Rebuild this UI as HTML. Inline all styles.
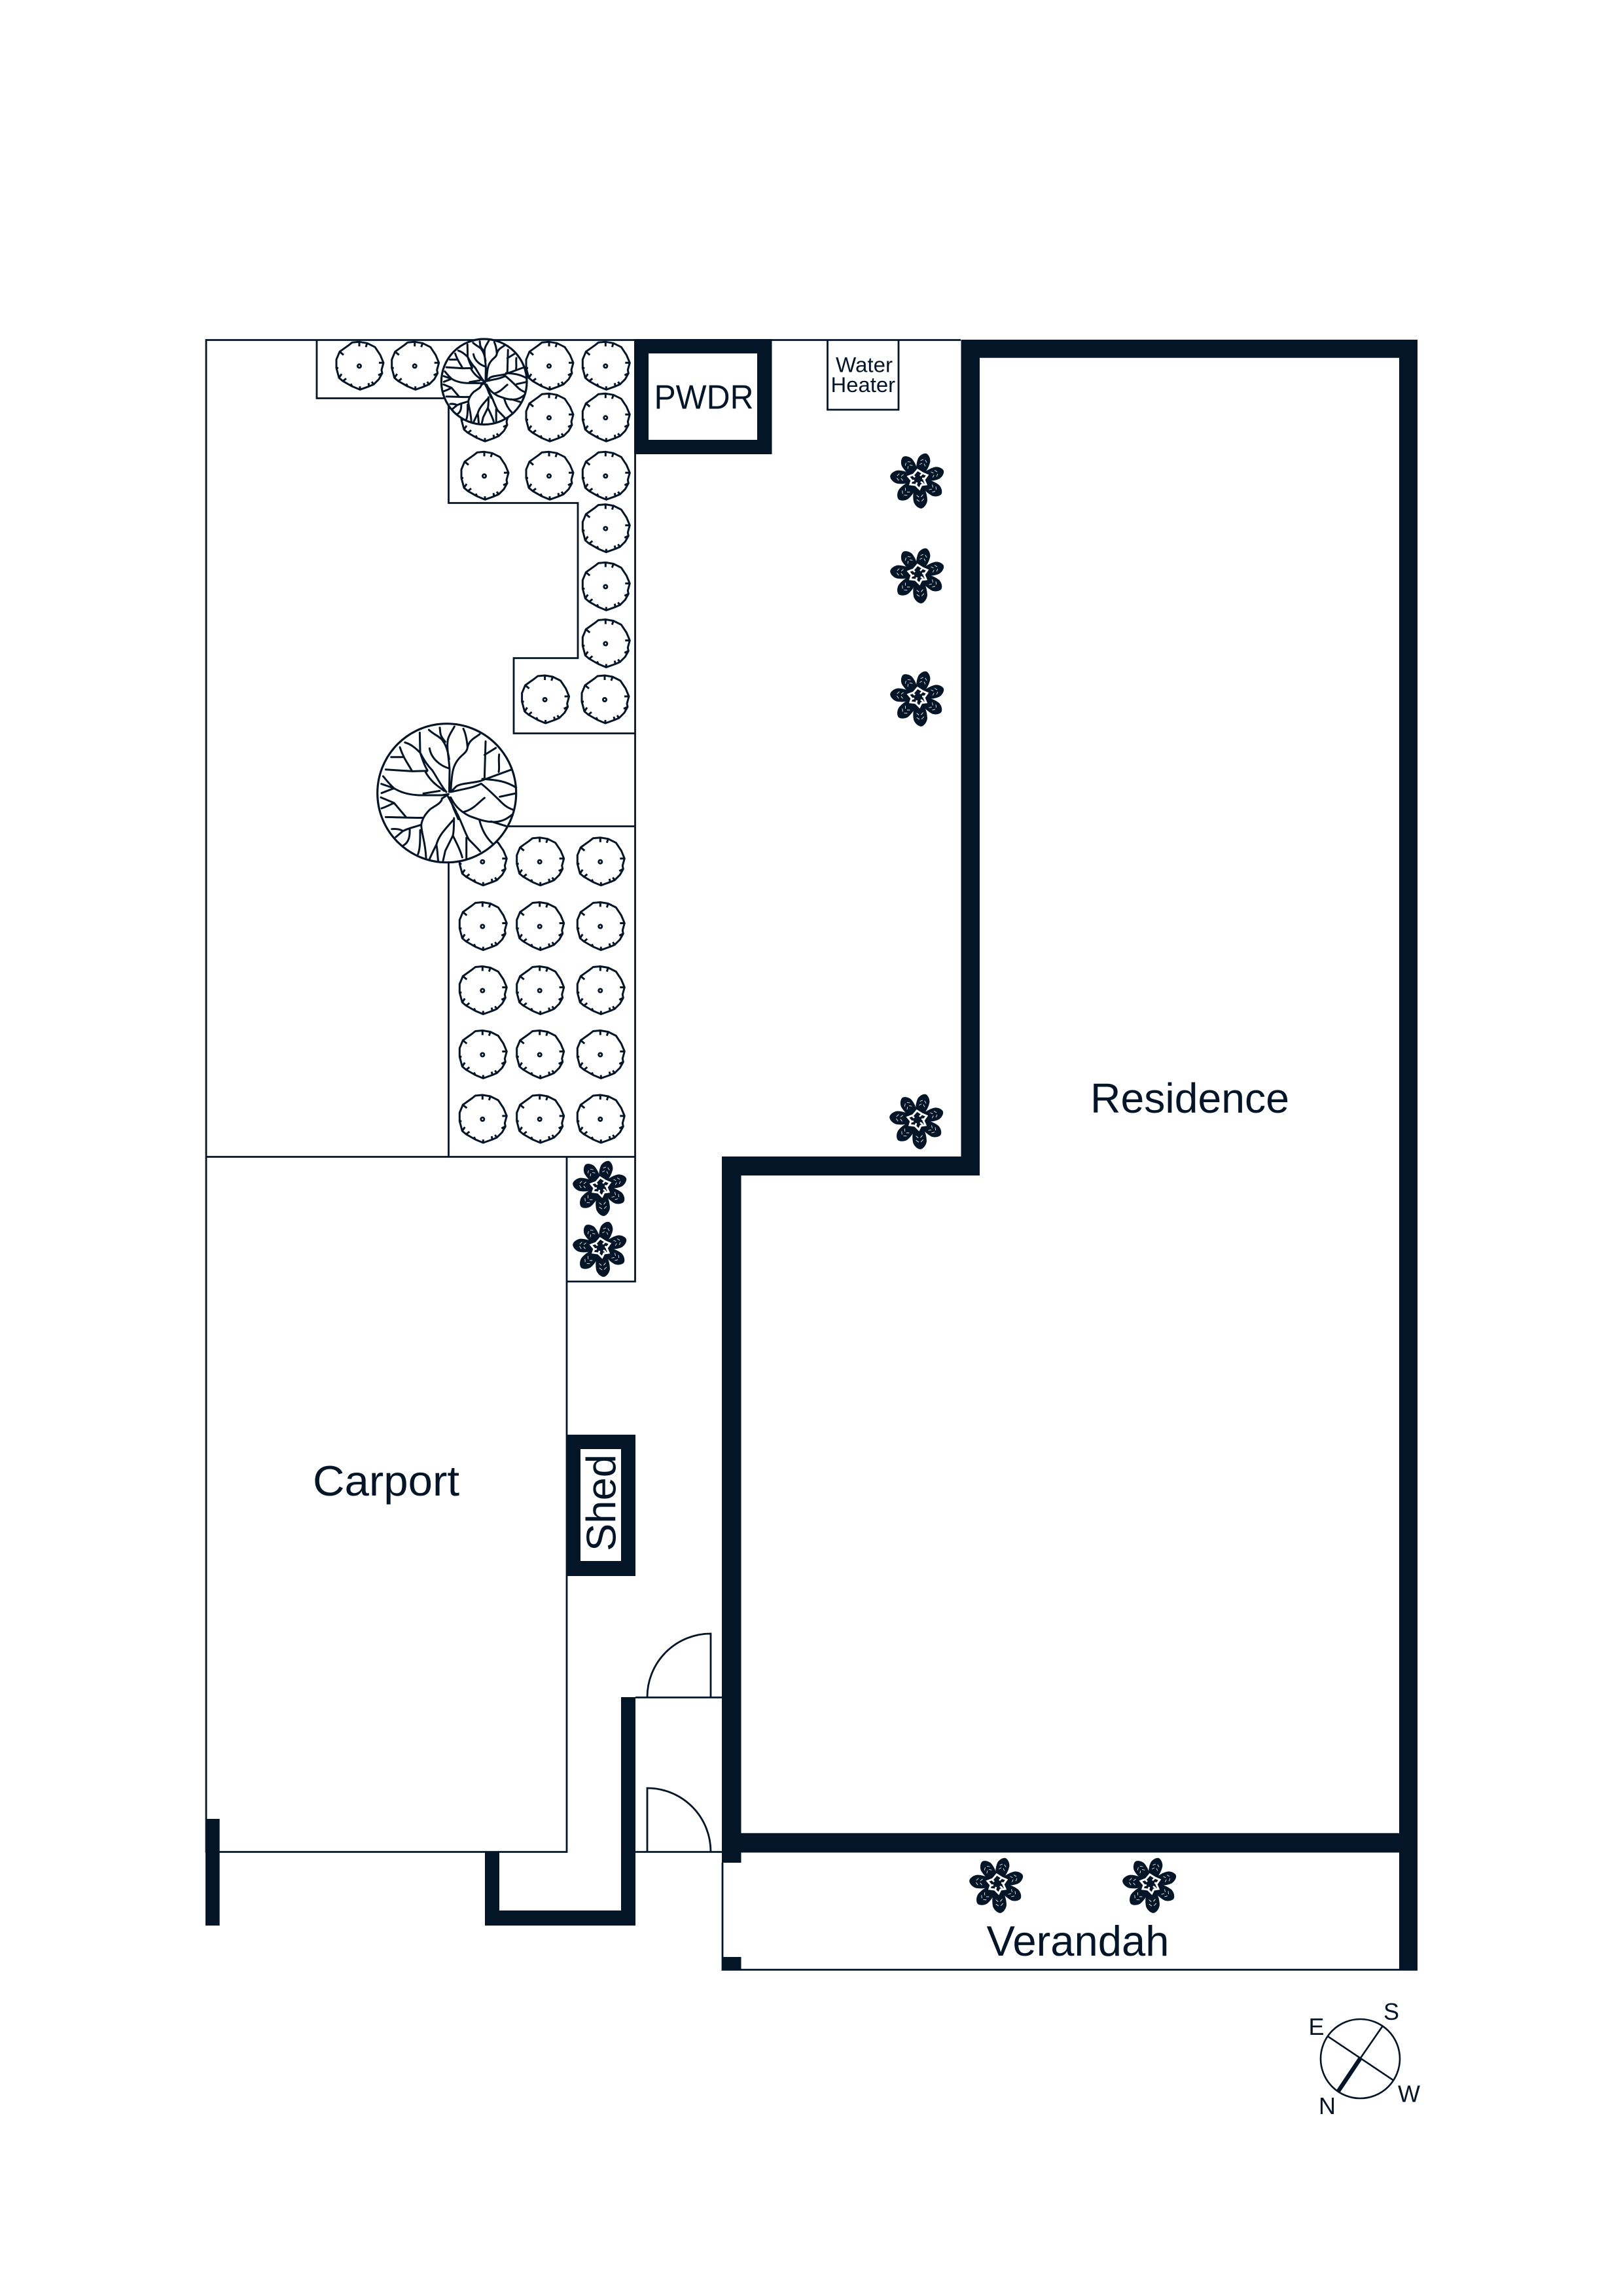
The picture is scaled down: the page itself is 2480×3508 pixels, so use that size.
<!DOCTYPE html>
<html><head><meta charset="utf-8"><title>Floor plan</title>
<style>html,body{margin:0;padding:0;background:#fff}svg{display:block}text{font-family:"Liberation Sans",sans-serif;fill:#041527}</style></head>
<body>
<svg xmlns="http://www.w3.org/2000/svg" width="2480" height="3508" viewBox="0 0 2480 3508">
<defs>
<g id="shrub">
<path d="M0,-37 L12,-35 L24,-29 L32,-17 L37,-5 L34,6 L35,11 L30,20 L22,28 L15,31 L1,36 L-11,31 L-25,23 L-31,18 L-35,3 L-35,-10 L-30,-22 L-16,-32 L-11,-36 Z M0,-37 V-30 M12,-35 L10,-29 M37,-5 H30 M35,11 L29,14 M22,28 L19,24 M15,31 L14,26 M1,36 V31 M-11,31 L-13,27 M-25,23 L-20,19 M-31,18 L-27,12 M-35,3 H-32 M-30,-22 L-24,-17" fill="#fff" stroke="#041527" stroke-width="3" stroke-linejoin="round"/>
<circle r="2.6" fill="#fff" stroke="#041527" stroke-width="2.8"/>
</g>
<g id="petal">
<path d="M3,0 C10,-8 22,-10.5 31,-9.5 C37,-8 41,-3 41,0 C41,3 37,8 31,9.5 C22,10.5 10,8 3,0Z" fill="#041527"/>
<path d="M22,-4.5 L25,-1.5 M22,4.5 L25,1.5 M28,-5 L31,-1.5 M28,5 L31,1.5" stroke="#fff" stroke-width="0.8" fill="none"/>
</g>
<g id="plant">
<use href="#petal" transform="rotate(-124)"/>
<use href="#petal" transform="rotate(-72.5)"/>
<use href="#petal" transform="rotate(-18)"/>
<use href="#petal" transform="rotate(33) scale(1.03)"/>
<use href="#petal" transform="rotate(84) scale(1.1)"/>
<use href="#petal" transform="rotate(134) scale(1.05)"/>
<use href="#petal" transform="rotate(186) scale(1.05)"/>
<circle r="18" fill="#041527"/>
<path d="M-1,-14 L7,-9 L14,-6 L9,1 L12,8 L5,9 L2,15 L-4,9 L-12,8 L-10,2 L-15,-4 L-7,-7 Z" fill="none" stroke="#fff" stroke-width="3"/>
<path d="M3,-5 L6,-8 M6,-1 L10,-1 M4,4 L8,7 M-2,5 L-3,9 M-6,2 L-10,3 M-5,-3 L-8,-6" fill="none" stroke="#fff" stroke-width="2.6"/>
</g>
<g id="tree">
<circle cx="367" cy="395" r="318" fill="#fff" stroke="#041527" stroke-width="3.2" vector-effect="non-scaling-stroke"/>
<path d="M378,390 L380,290 C378,240 365,190 372,150 C378,125 395,105 402,90 M335,95 C338,125 335,130 360,160 M285,105 C305,125 325,130 345,150 C360,170 370,190 378,240 M288,190 C295,235 335,270 378,282 M385,390 C390,300 395,270 420,240 C440,215 460,210 462,185 C470,150 500,140 518,125 M443,100 C455,125 460,160 462,185 M545,158 L540,325 M540,220 L592,188 M607,218 C603,250 610,275 605,298 M665,287 L520,340 C480,350 430,350 410,365 L385,390 L440,378 C470,372 490,368 525,352 C550,372 590,410 620,440 C640,460 655,465 672,472 M530,330 C580,335 630,335 685,370 M610,412 L680,397 M540,417 C510,440 490,470 443,482 M385,415 C400,445 420,475 470,500 C510,515 550,530 590,527 C620,525 640,515 665,495 M570,525 L638,546 M517,520 C530,570 550,600 575,625 M372,410 L410,480 L420,515 L400,470 L380,415 M400,510 C400,540 400,570 395,590 L360,660 L350,705 M395,590 C415,630 430,660 438,690 M415,490 C440,540 455,590 470,610 C490,630 505,645 520,662 M457,600 L457,695 M395,520 C360,560 330,590 320,630 C305,660 295,680 287,700 M320,635 C325,660 325,690 328,710 M345,420 C345,440 310,455 290,470 C270,490 255,510 250,540 C225,550 190,555 165,570 L133,597 M255,508 C200,510 140,505 87,505 M250,540 C250,580 270,620 272,695 M245,565 C245,610 245,650 235,675 M197,560 C198,590 195,620 168,635 M115,560 C135,558 150,560 165,568 M180,505 L125,440 L65,415 M125,440 C105,450 85,460 68,465 M345,405 L255,405 C200,405 160,395 125,373 C100,350 90,335 75,318 M125,373 L67,353 M125,373 L68,395 M335,385 L260,397 M355,385 C330,365 300,350 270,300 L278,293 L210,295 L87,287 M208,295 C190,260 170,240 152,185 M165,230 L112,230 M365,390 C340,360 320,320 300,290 C285,275 265,250 245,210 C220,185 200,170 175,163 M243,118 L245,210 C255,240 265,270 278,290 M345,405 L375,400 L345,420" fill="none" stroke="#041527" stroke-width="3" stroke-linejoin="round" stroke-linecap="round" vector-effect="non-scaling-stroke"/>
</g>
</defs>

<!-- thin lines -->
<g fill="none" stroke="#041527" stroke-width="2.8">
<path d="M1468,519.5 H315 V2829.5 H866 V1767.5"/>
<path d="M315,1767.5 H970"/>
<path d="M970.5,519 V1958 H866"/>
<path d="M484,519 V608.5 H685.5 V768.5 H883 V1005.5 H785 V1120.5 H970"/>
<path d="M685.5,1767 V1262.5 H970"/>
<path d="M1264.5,519 V626 H1373 V519"/>
<path d="M971,2593.5 H1103 M971,2829.5 H1103"/>
<path d="M1086,2593 V2496 A97,97 0 0 0 989,2593"/>
<path d="M989,2829 V2732 A97,97 0 0 1 1086,2829"/>
<path d="M1104,2846 V3009.5 H2166"/>
</g>

<!-- shrubs -->
<g>
<use href="#shrub" x="549" y="559.3"/><use href="#shrub" x="633.7" y="559.3"/>
<use href="#shrub" x="839" y="559.3"/><use href="#shrub" x="925.3" y="559.3"/>
<use href="#shrub" x="740" y="638.3"/><use href="#shrub" x="839" y="638.3"/><use href="#shrub" x="925.3" y="638.3"/>
<use href="#shrub" x="740" y="727.3"/><use href="#shrub" x="839" y="727.3"/><use href="#shrub" x="925.3" y="727.3"/>
<use href="#shrub" x="925.3" y="807.6"/><use href="#shrub" x="925.3" y="896.4"/><use href="#shrub" x="925.3" y="983.5"/>
<use href="#shrub" x="832.6" y="1069"/><use href="#shrub" x="924" y="1069"/>
<use href="#shrub" x="737.3" y="1316.7"/><use href="#shrub" x="824.7" y="1316.7"/><use href="#shrub" x="917.3" y="1316.7"/>
<use href="#shrub" x="737.3" y="1415.5"/><use href="#shrub" x="824.7" y="1415.5"/><use href="#shrub" x="917.3" y="1415.5"/>
<use href="#shrub" x="737.3" y="1513.5"/><use href="#shrub" x="824.7" y="1513.5"/><use href="#shrub" x="917.3" y="1513.5"/>
<use href="#shrub" x="737.3" y="1611.5"/><use href="#shrub" x="824.7" y="1611.5"/><use href="#shrub" x="917.3" y="1611.5"/>
<use href="#shrub" x="737.3" y="1710"/><use href="#shrub" x="824.7" y="1710"/><use href="#shrub" x="917.3" y="1710"/>
</g>

<!-- trees -->
<use href="#tree" transform="translate(682.7,1211.7) scale(0.3333) translate(-367,-395)"/>
<use href="#tree" transform="translate(739.7,583.3) scale(0.2054) translate(-367,-395)"/>

<!-- plants -->
<use href="#plant" x="1403" y="732"/><use href="#plant" x="1403" y="877"/><use href="#plant" x="1403" y="1065"/><use href="#plant" x="1402" y="1711"/>
<use href="#plant" x="918" y="1813"/><use href="#plant" x="918" y="1906"/>
<use href="#plant" x="1524" y="2878"/><use href="#plant" x="1758" y="2878"/>

<!-- walls -->
<g fill="#041527">
<path fill-rule="evenodd" d="M1468.5,519 H2166 V3010.5 H2138 V2830.5 H1132.5 V2846 H1103 V1767 H1468.5 Z M1497,546.7 V1796 H1132.5 V2800.7 H2138 V546.7 Z"/>
<path fill-rule="evenodd" d="M969,518 H1179.5 V694 H969 Z M991,540 V672 H1157 V540 Z"/>
<path fill-rule="evenodd" d="M865,2192 H971 V2408 H865 Z M887,2214 V2385 H949 V2214 Z"/>
<rect x="314" y="2779" width="21.6" height="163"/>
<path d="M741,2829 H763 V2919 H949 V2593 H971 V2942 H741 Z"/>
<rect x="1104" y="2990" width="28.5" height="20"/>
</g>

<!-- labels -->
<text x="1666" y="1700" font-size="64" textLength="304" lengthAdjust="spacingAndGlyphs">Residence</text>
<text x="478" y="2285" font-size="65" textLength="224" lengthAdjust="spacingAndGlyphs">Carport</text>
<text x="1507.5" y="2988" font-size="65" textLength="279" lengthAdjust="spacingAndGlyphs">Verandah</text>
<text x="999.5" y="624.3" font-size="52" textLength="152" lengthAdjust="spacingAndGlyphs">PWDR</text>
<text x="1277" y="568.3" font-size="32" textLength="87" lengthAdjust="spacingAndGlyphs">Water</text>
<text x="1269.5" y="599" font-size="32" textLength="98.5" lengthAdjust="spacingAndGlyphs">Heater</text>
<text transform="translate(940.7,2370) rotate(-90)" font-size="63" textLength="148" lengthAdjust="spacingAndGlyphs">Shed</text>

<!-- compass -->
<circle cx="2078.5" cy="3145.5" r="60.5" fill="none" stroke="#041527" stroke-width="2.6"/>
<path d="M2028.5,3111 L2130,3179 M2113,3095 L2078.5,3145" fill="none" stroke="#041527" stroke-width="2.6"/>
<path d="M2078.5,3145 L2045,3195" fill="none" stroke="#041527" stroke-width="6.5"/>
<text x="1999.5" y="3109" font-size="36">E</text>
<text x="2114" y="3086" font-size="36">S</text>
<text x="2136" y="3211.5" font-size="36">W</text>
<text x="2015" y="3230" font-size="36">N</text>
</svg>
</body></html>
